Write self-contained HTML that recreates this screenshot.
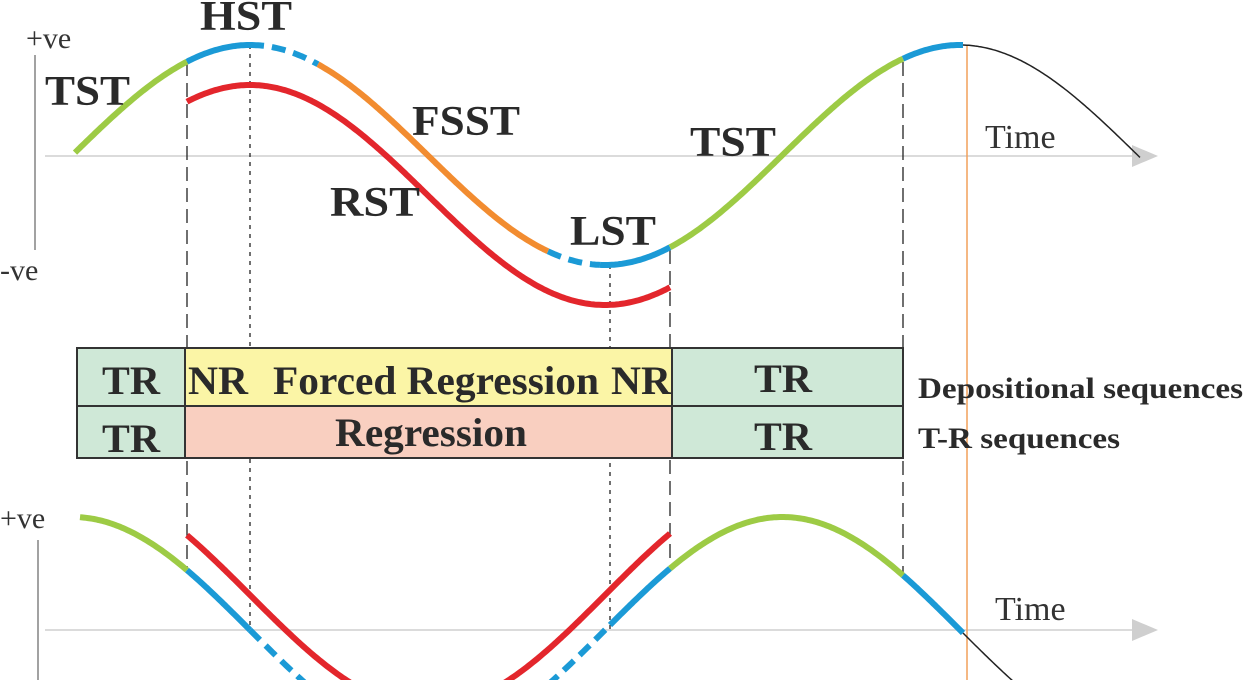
<!DOCTYPE html>
<html><head><meta charset="utf-8"><style>
html,body{margin:0;padding:0;background:#fff;width:1243px;height:680px;overflow:hidden}
svg{display:block}
svg text{font-family:"Liberation Serif",serif}
.b{font-weight:bold;fill:#2a2a2a}
</style></head><body>
<svg id="c" width="1243" height="680" viewBox="0 0 1243 680" xmlns="http://www.w3.org/2000/svg">
<g id="grid">
<line x1="45" y1="156" x2="1140" y2="156" stroke="#cfcfcf" stroke-width="1.5"/>
<polygon points="1132,145 1158,156 1132,167" fill="#cfcfcf"/>
<line x1="45" y1="630" x2="1140" y2="630" stroke="#cfcfcf" stroke-width="1.5"/>
<polygon points="1132,619 1158,630 1132,641" fill="#cfcfcf"/>
<line x1="35" y1="55" x2="35" y2="250" stroke="#444" stroke-width="1"/>
<line x1="38" y1="540" x2="38" y2="680" stroke="#444" stroke-width="1"/>
<line x1="967" y1="45" x2="967" y2="680" stroke="#f2a05a" stroke-width="1.5"/>
<line x1="187" y1="62" x2="187" y2="568" stroke="#222" stroke-width="1.3" stroke-dasharray="14,7"/>
<line x1="670" y1="250" x2="670" y2="565" stroke="#222" stroke-width="1.3" stroke-dasharray="14,7"/>
<line x1="903" y1="62" x2="903" y2="575" stroke="#222" stroke-width="1.3" stroke-dasharray="14,7"/>
<line x1="250" y1="45" x2="250" y2="630" stroke="#222" stroke-width="1.3" stroke-dasharray="4,5"/>
<line x1="610" y1="265" x2="610" y2="630" stroke="#222" stroke-width="1.3" stroke-dasharray="4,5"/>
</g>
<g>
<rect x="77" y="348" width="108" height="58" fill="#cfe8d7" stroke="#333" stroke-width="2"/>
<rect x="185" y="348" width="487" height="58" fill="#fbf5a6" stroke="#333" stroke-width="2"/>
<rect x="672" y="348" width="231" height="58" fill="#cfe8d7" stroke="#333" stroke-width="2"/>
<rect x="77" y="406" width="108" height="52" fill="#cfe8d7" stroke="#333" stroke-width="2"/>
<rect x="185" y="406" width="487" height="52" fill="#f9cfc0" stroke="#333" stroke-width="2"/>
<rect x="672" y="406" width="231" height="52" fill="#cfe8d7" stroke="#333" stroke-width="2"/>
<text class="b" x="131" y="394" font-size="40" text-anchor="middle" textLength="58" lengthAdjust="spacingAndGlyphs">TR</text>
<text class="b" x="188" y="394" font-size="40" textLength="60" lengthAdjust="spacingAndGlyphs">NR</text>
<text class="b" x="273" y="394" font-size="40" textLength="326" lengthAdjust="spacingAndGlyphs">Forced Regression</text>
<text class="b" x="611" y="394" font-size="40" textLength="60" lengthAdjust="spacingAndGlyphs">NR</text>
<text class="b" x="783" y="392" font-size="40" text-anchor="middle" textLength="58" lengthAdjust="spacingAndGlyphs">TR</text>
<text class="b" x="131" y="452" font-size="40" text-anchor="middle" textLength="58" lengthAdjust="spacingAndGlyphs">TR</text>
<text class="b" x="335" y="446" font-size="40" textLength="192" lengthAdjust="spacingAndGlyphs">Regression</text>
<text class="b" x="783" y="450" font-size="40" text-anchor="middle" textLength="58" lengthAdjust="spacingAndGlyphs">TR</text>
<text class="b" x="918" y="398" font-size="30" textLength="325" lengthAdjust="spacingAndGlyphs">Depositional sequences</text>
<text class="b" x="918" y="448" font-size="30" textLength="202" lengthAdjust="spacingAndGlyphs">T-R sequences</text>
</g>
<g id="curves"></g>
<g>
<text x="26" y="48" font-size="30" fill="#333">+ve</text>
<text x="0" y="280" font-size="30" fill="#333">-ve</text>
<text x="0" y="528" font-size="30" fill="#333">+ve</text>
<text x="985" y="148" font-size="34" fill="#333">Time</text>
<text x="995" y="620" font-size="34" fill="#333">Time</text>
<text class="b" x="200" y="30" font-size="42" textLength="92" lengthAdjust="spacingAndGlyphs">HST</text>
<text class="b" x="45" y="105" font-size="42" textLength="85" lengthAdjust="spacingAndGlyphs">TST</text>
<text class="b" x="412" y="135" font-size="42" textLength="108" lengthAdjust="spacingAndGlyphs">FSST</text>
<text class="b" x="330" y="216" font-size="42" textLength="90" lengthAdjust="spacingAndGlyphs">RST</text>
<text class="b" x="570" y="245" font-size="42" textLength="86" lengthAdjust="spacingAndGlyphs">LST</text>
<text class="b" x="690" y="156" font-size="42" textLength="86" lengthAdjust="spacingAndGlyphs">TST</text>
</g>
</svg>
<script>
// Segment data: [startX, endX, colour, style]
const topSegStart = [75, 187, 250, 318, 548, 600, 670, 903, 963];
const topSegEnd   = [187, 250, 318, 548, 600, 670, 903, 963, 1140];
const topSegKind  = ['green','blue','blueDash','orange','blueDash','blue','green','blue','black'];
const botSegStart = [80, 187, 250, 610, 670, 903, 963];
const botSegEnd   = [187, 250, 610, 670, 903, 963, 1040];
const botSegKind  = ['green','blue','blueDash','blue','green','blue','black'];
const redTopRange = [187, 670];
const redBotRange = [187, 670];
const colors = {green:'#9dcb45', blue:'#1b9ad6', blueDash:'#1b9ad6', orange:'#f28c30', black:'#222', red:'#e3262c'};
const PERIOD = 710, PHASE_X = 250;
function topY(x){return 155 - 110*Math.cos(2*Math.PI*(x-PHASE_X)/PERIOD);}
function botY(x){return 630 + 113*Math.sin(2*Math.PI*(x-PHASE_X)/PERIOD);}
const g = document.getElementById('curves');
const NS = 'http://www.w3.org/2000/svg';
function pathD(f, a, b, dy){
  let d = '';
  for(let x=a; x<=b; x+=2){ d += (x===a?'M':'L') + x + ',' + (f(x)+dy).toFixed(1) + ' '; }
  d += 'L' + b + ',' + (f(b)+dy).toFixed(1);
  return d;
}
function addPath(d, kind, name){
  const p = document.createElementNS(NS,'path');
  p.setAttribute('d', d);
  p.setAttribute('fill','none');
  p.setAttribute('stroke', colors[kind]);
  p.setAttribute('stroke-width', kind==='black' ? 1.5 : 6);
  if(kind==='blueDash') p.setAttribute('stroke-dasharray','14,8');
  
  
  g.appendChild(p);
}
addPath(pathD(topY, redTopRange[0], redTopRange[1], 40), 'red', 'top-rst-curve');
addPath(pathD(botY, redBotRange[0], redBotRange[1], -35), 'red', 'bottom-red-curve');
for(let i=0;i<topSegStart.length;i++){
  addPath(pathD(topY, topSegStart[i], topSegEnd[i], 0), topSegKind[i], 'top-curve-segment-'+(i+1));
}
for(let i=0;i<botSegStart.length;i++){
  addPath(pathD(botY, botSegStart[i], botSegEnd[i], 0), botSegKind[i], 'bottom-curve-segment-'+(i+1));
}
</script>
</body></html>
